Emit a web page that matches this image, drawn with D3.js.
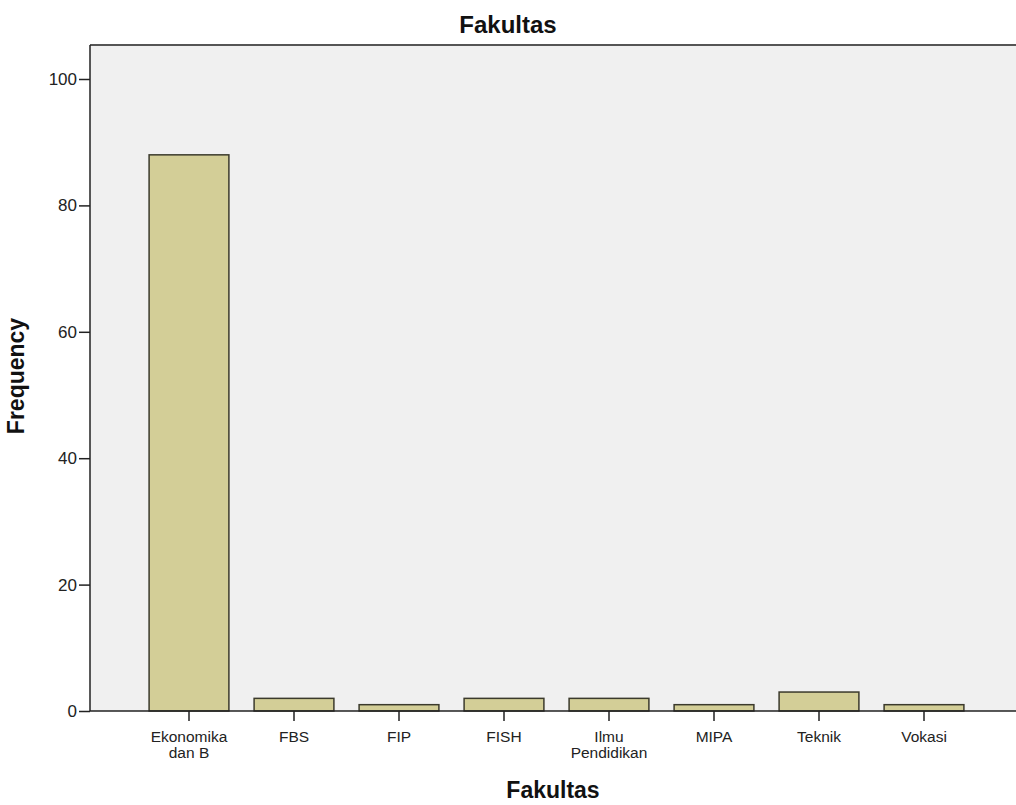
<!DOCTYPE html>
<html lang="en">
<head>
    <meta charset="UTF-8">
    <title>Fakultas</title>
    <script src="https://d3js.org/d3.v7.min.js"></script>
    <style>
        html, body { margin: 0; background: #fff; }
        text { font-family: Arial, "Liberation Sans", sans-serif; }
    </style>
</head>
<body>
<div id="vis"></div>
<script>
    // data
    var categories = ["Ekonomika\ndan B", "FBS", "FIP", "FISH", "Ilmu\nPendidikan", "MIPA", "Teknik", "Vokasi"];
    var frequencies = [88, 2, 1, 2, 2, 1, 3, 1];
    var yTicks = [0, 20, 40, 60, 80, 100];

    var W = 1016, H = 805;
    var plot = {left: 90, top: 45, right: 1016, bottom: 711};

    var svg = d3.select("#vis").append("svg")
        .attr("width", W).attr("height", H);

    var x = d3.scaleBand()
        .domain(categories)
        .range([136.5, 976.5])
        .paddingInner(0.24)
        .paddingOuter(0.12);

    var y = d3.scaleLinear()
        .domain([0, 100])
        .range([plot.bottom, 79]);

    // plot background
    svg.append("rect")
        .attr("x", plot.left).attr("y", plot.top)
        .attr("width", plot.right - plot.left)
        .attr("height", plot.bottom - plot.top)
        .attr("fill", "#f0f0f0");

    svg.append("line")
        .attr("x1", plot.left).attr("x2", plot.right)
        .attr("y1", plot.top).attr("y2", plot.top)
        .attr("stroke", "#555").attr("stroke-width", 2);

    // bars
    svg.selectAll("rect.bar")
        .data(frequencies)
        .enter().append("rect")
            .attr("class", "bar")
            .attr("x", function(d, i) { return x(categories[i]); })
            .attr("width", x.bandwidth())
            .attr("y", function(d) { return y(d); })
            .attr("height", function(d) { return y(0) - y(d); })
            .attr("fill", "#d3ce97")
            .attr("stroke", "#3b3a2c")
            .attr("stroke-width", 1.5);

    // y axis
    var yAxis = svg.append("g")
        .attr("transform", "translate(" + plot.left + ",0)")
        .call(d3.axisLeft(y).tickValues(yTicks).tickSize(11).tickPadding(2).tickSizeOuter(0));
    yAxis.select(".domain").attr("stroke", "#222").attr("stroke-width", 1.5)
        .attr("d", "M0," + plot.top + "V" + plot.bottom);
    yAxis.selectAll(".tick line").attr("stroke", "#222").attr("stroke-width", 1.5);
    yAxis.selectAll(".tick text").attr("font-size", 17).attr("fill", "#222")
        .attr("font-family", "Arial, 'Liberation Sans', sans-serif");

    // x axis
    var xAxis = svg.append("g")
        .attr("transform", "translate(0," + plot.bottom + ")")
        .call(d3.axisBottom(x).tickSize(10).tickSizeOuter(0).tickFormat(""));
    xAxis.select(".domain").attr("stroke", "#222").attr("stroke-width", 1.5)
        .attr("d", "M" + plot.left + ",0H" + plot.right);
    xAxis.selectAll(".tick line").attr("stroke", "#222").attr("stroke-width", 1.5);
    xAxis.selectAll(".tick").each(function(d) {
        var t = d3.select(this).append("text")
            .attr("fill", "#222")
            .attr("font-size", 15.5)
            .attr("text-anchor", "middle")
            .attr("font-family", "Arial, 'Liberation Sans', sans-serif");
        d.split("\n").forEach(function(line, i) {
            t.append("tspan").attr("x", 0).attr("y", 31 + i * 16).text(line);
        });
    });

    // titles
    svg.append("text")
        .attr("x", W / 2).attr("y", 33)
        .attr("text-anchor", "middle")
        .attr("font-size", 24).attr("font-weight", "bold").attr("fill", "#111")
        .text("Fakultas");

    svg.append("text")
        .attr("x", (plot.left + plot.right) / 2).attr("y", 798)
        .attr("text-anchor", "middle")
        .attr("font-size", 23).attr("font-weight", "bold").attr("fill", "#111")
        .text("Fakultas");

    svg.append("text")
        .attr("transform", "translate(24,376) rotate(-90)")
        .attr("text-anchor", "middle")
        .attr("font-size", 23).attr("font-weight", "bold").attr("fill", "#111")
        .text("Frequency");
</script>
</body>
</html>
